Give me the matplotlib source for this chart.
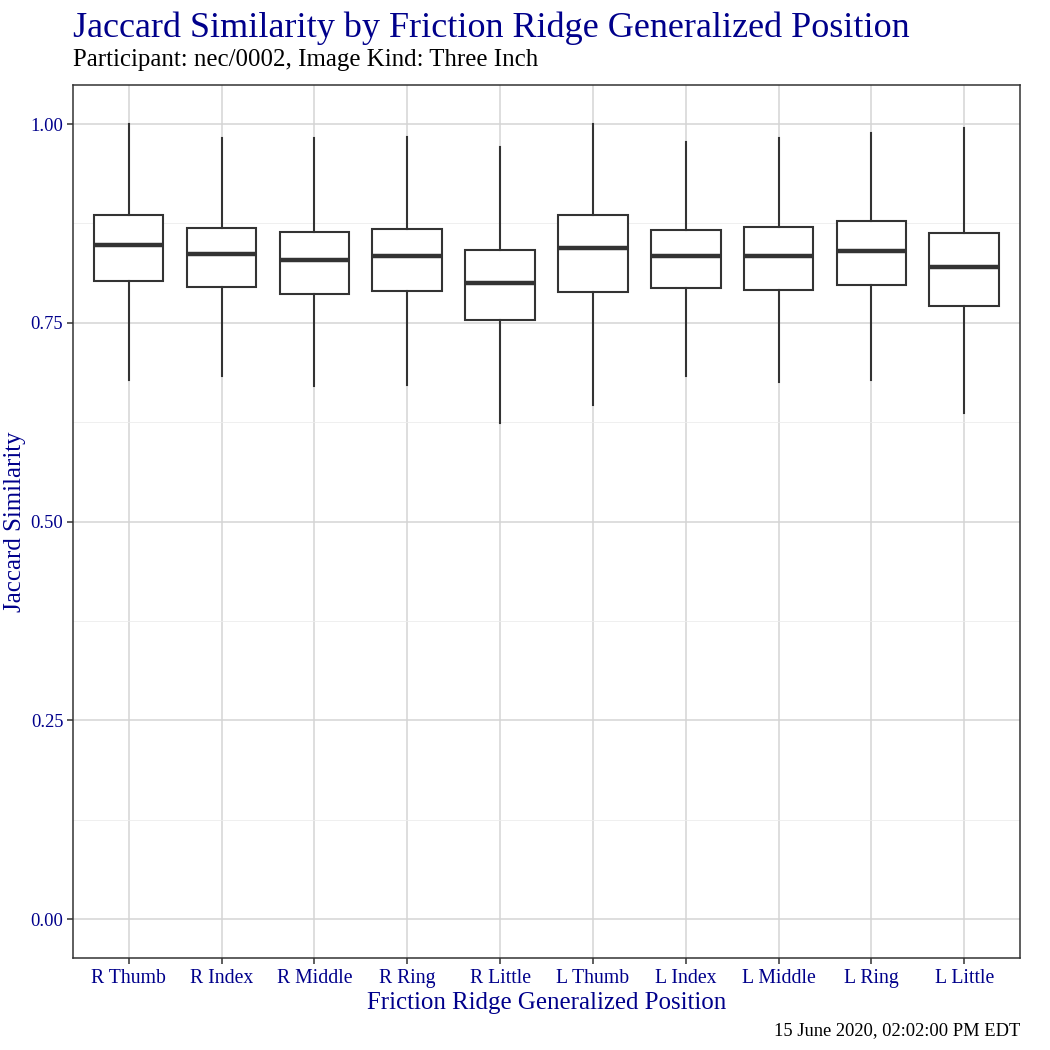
import matplotlib
matplotlib.use("Agg")
import matplotlib.pyplot as plt
import numpy as np

plt.rcParams['font.family'] = ['Liberation Serif', 'DejaVu Serif']

positions = ["R Thumb", "R Index", "R Middle", "R Ring", "R Little",
             "L Thumb", "L Index", "L Middle", "L Ring", "L Little"]
whisker_low = [0.678, 0.683, 0.670, 0.672, 0.624, 0.647, 0.683, 0.675, 0.678, 0.636]
q1 = [0.802, 0.795, 0.786, 0.790, 0.754, 0.789, 0.794, 0.791, 0.798, 0.771]
median = [0.848, 0.837, 0.829, 0.834, 0.800, 0.844, 0.834, 0.834, 0.840, 0.820]
q3 = [0.886, 0.869, 0.864, 0.868, 0.842, 0.886, 0.867, 0.871, 0.878, 0.863]
whisker_high = [1.000, 0.982, 0.982, 0.984, 0.971, 1.000, 0.977, 0.982, 0.989, 0.995]

blue = '#00008B'
dark = '#333333'

stats = []
for i in range(len(positions)):
    stats.append({'whislo': whisker_low[i], 'q1': q1[i], 'med': median[i],
                  'q3': q3[i], 'whishi': whisker_high[i], 'fliers': [],
                  'label': positions[i]})

fig = plt.figure(figsize=(10.5, 10.5), dpi=100)
ax = fig.add_axes([0.0695, 0.0876, 0.9019, 0.8314])

ax.set_yticks([0.125, 0.375, 0.625, 0.875], minor=True)
ax.grid(True, which='major', color='#d4d4d4', linewidth=1.1)
ax.grid(True, which='minor', axis='y', color='#ececec', linewidth=0.6)
ax.set_axisbelow(True)

ax.bxp(stats, positions=np.arange(1, 11), widths=0.75, showcaps=False,
       patch_artist=True,
       boxprops=dict(facecolor='white', edgecolor=dark, linewidth=1.5),
       medianprops=dict(color=dark, linewidth=3.2),
       whiskerprops=dict(color=dark, linewidth=1.5))

ax.set_xlim(0.4, 10.6)
ax.set_ylim(-0.049, 1.049)
ax.set_yticks([0.0, 0.25, 0.5, 0.75, 1.0])
ax.set_yticklabels(["0.00", "0.25", "0.50", "0.75", "1.00"])
ax.set_xticks(np.arange(1, 11))
ax.set_xticklabels(positions)
ax.tick_params(axis='both', which='major', colors=dark, labelcolor=blue,
               length=4, width=1.1)
ax.tick_params(axis='x', labelsize=14.2, pad=4)
ax.tick_params(axis='y', labelsize=13.3, pad=3)
ax.tick_params(axis='y', which='minor', left=False)
for s in ax.spines.values():
    s.set_color('#333333')
    s.set_linewidth(1.1)

ax.set_xlabel("Friction Ridge Generalized Position", color=blue, fontsize=17.9, labelpad=3)
ax.set_ylabel("Jaccard Similarity", color=blue, fontsize=17.9, labelpad=3)

fig.text(0.0695, 0.965, "Jaccard Similarity by Friction Ridge Generalized Position",
         color=blue, fontsize=26, ha='left', va='baseline')
fig.text(0.0695, 0.937, "Participant: nec/0002, Image Kind: Three Inch",
         color='black', fontsize=17.9, ha='left', va='baseline')
fig.text(0.9714, 0.0143, "15 June 2020, 02:02:00 PM EDT",
         color='black', fontsize=13.3, ha='right', va='baseline')

fig.savefig("out.png", dpi=100, facecolor='white')
